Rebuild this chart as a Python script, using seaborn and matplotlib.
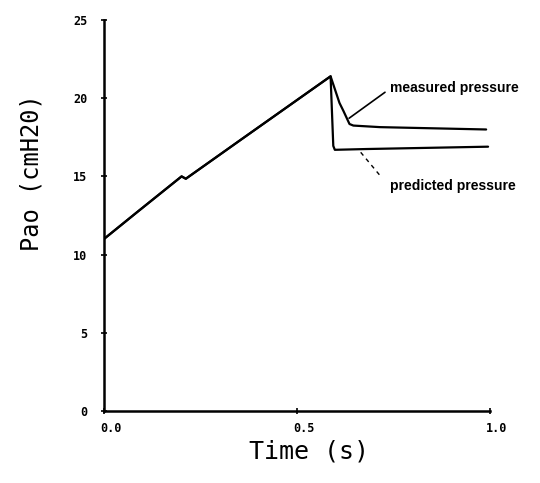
import numpy as np
import pandas as pd
import matplotlib
matplotlib.use("Agg")
import matplotlib.pyplot as plt
import matplotlib.transforms as mtransforms
import seaborn as sns

# Airway opening pressure during an inflation and the pause that follows
measured_time = [0.0, 0.085, 0.201, 0.212, 0.352, 0.587, 0.61, 0.62, 0.636, 0.646, 0.715, 0.99]
measured_pao = [11.0, 12.7, 15.0, 14.85, 17.3, 21.4, 19.7, 19.2, 18.35, 18.25, 18.15, 18.0]

predicted_time = [0.0, 0.085, 0.201, 0.212, 0.352, 0.587, 0.594, 0.598, 0.68, 0.995]
predicted_pao = [11.0, 12.7, 15.0, 14.85, 17.3, 21.4, 16.95, 16.7, 16.75, 16.9]

x_ticks = [0.0, 0.5, 1.0]
x_tick_labels = ["0.0", "0.5", "1.0"]
y_ticks = [0, 5, 10, 15, 20, 25]

df = pd.concat([
    pd.DataFrame({"Time": measured_time, "Pao": measured_pao, "curve": "measured"}),
    pd.DataFrame({"Time": predicted_time, "Pao": predicted_pao, "curve": "predicted"}),
])

sns.set_theme(style="ticks")
fig = plt.figure(figsize=(5.40, 4.83), dpi=100)
ax = fig.add_axes([104 / 540, 1 - 411 / 483, 386 / 540, 391 / 483])

sns.lineplot(data=df, x="Time", y="Pao", units="curve", estimator=None,
             sort=False, color="black", linewidth=1.6, ax=ax, legend=False)

ax.set_xlim(0, 1.0)
ax.set_ylim(0, 25)
ax.set_xticks(x_ticks)
ax.set_xticklabels(x_tick_labels)
ax.set_yticks(y_ticks)

for side in ("top", "right"):
    ax.spines[side].set_visible(False)
for side in ("left", "bottom"):
    ax.spines[side].set_linewidth(1.8)
    ax.spines[side].set_color("black")

ax.tick_params(axis="both", direction="inout", length=4, width=1.2,
               color="black", labelcolor="black")
ax.tick_params(axis="y", pad=10)
ax.tick_params(axis="x", pad=6)
for lab in ax.get_xticklabels() + ax.get_yticklabels():
    lab.set_fontfamily("DejaVu Sans Mono")
    lab.set_fontweight("bold")
    lab.set_fontsize(8.5)
shift = mtransforms.ScaledTranslation(7 / 100, 0, fig.dpi_scale_trans)
for lab in ax.get_xticklabels():
    lab.set_transform(lab.get_transform() + shift)

ax.set_xlabel("Time (s)", fontfamily="DejaVu Sans Mono", fontsize=18, color="black")
ax.set_ylabel("Pao (cmH20)", fontfamily="DejaVu Sans Mono", fontsize=17, color="black")
ax.xaxis.set_label_coords((309 - 104) / 386, -(439 - 411) / 391)
ax.yaxis.set_label_coords(-(104 - 43) / 386, (411 - 173) / 391)

# Callout labels for the two curves
label_style = dict(fontsize=10, fontweight="bold", fontfamily="Liberation Sans",
                   color="black", va="center", ha="left")
ax.plot([0.635, 0.728], [18.72, 20.38], color="black", lw=1.2)
ax.text(0.741, 20.64, "measured pressure", **label_style)
ax.plot([0.665, 0.719], [16.54, 14.94], color="black", lw=1.0,
        linestyle=(0, (3, 3)))
ax.text(0.741, 14.38, "predicted pressure", **label_style)

fig.savefig("out.png", dpi=100)
